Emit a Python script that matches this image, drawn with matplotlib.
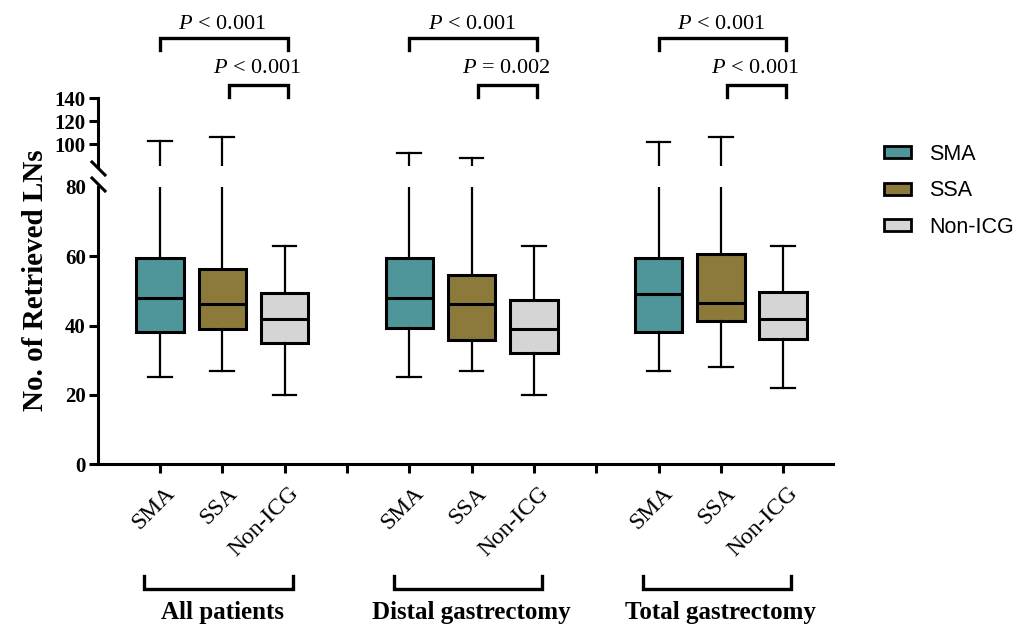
import numpy as np
import matplotlib.pyplot as plt
from matplotlib.patches import Patch
from matplotlib.lines import Line2D
import matplotlib.transforms as mtransforms

plt.rcParams['font.family'] = ['Liberation Serif', 'DejaVu Serif']
plt.rcParams['mathtext.fontset'] = 'custom'
plt.rcParams['mathtext.it'] = 'Liberation Serif:italic'
plt.rcParams['mathtext.rm'] = 'Liberation Serif'

groups = ['All patients', 'Distal gastrectomy', 'Total gastrectomy']
arms = ['SMA', 'SSA', 'Non-ICG']
colors = ['#4E9699', '#8C7A3B', '#D5D5D5']

# box stats per group (rows) and arm (cols)
lows = [[25, 27, 20], [25, 27, 20], [27, 28, 22]]
q1s = [[38.2, 39.0, 35.0], [39.2, 35.8, 32.2], [38.2, 41.3, 36.1]]
meds = [[48.0, 46.2, 42.0], [48.0, 46.1, 39.0], [49.0, 46.4, 41.8]]
q3s = [[59.5, 56.4, 49.4], [59.6, 54.6, 47.4], [59.6, 60.6, 49.8]]
highs = [[102.5, 106.0, 63.0], [92.0, 88.0, 63.0], [102.0, 106.0, 63.0]]

# P values: SMA vs Non-ICG, SSA vs Non-ICG
p_outer = ['< 0.001', '< 0.001', '< 0.001']
p_inner = ['< 0.001', '= 0.002', '< 0.001']

positions = [[1, 2, 3], [5, 6, 7], [9, 10, 11]]

W, H = 1017, 632
fig = plt.figure(figsize=(W / 100, H / 100), dpi=100)
left = 97.7 / W
width = (833 - 97.7) / W
ax = fig.add_axes([left, 1 - 464 / H, width, 277 / H])
ax_top = fig.add_axes([left, 1 - 166 / H, width, 67.9 / H])

for a in (ax, ax_top):
    for gi in range(3):
        stats = []
        for ai in range(3):
            stats.append(dict(whislo=lows[gi][ai], q1=q1s[gi][ai], med=meds[gi][ai],
                              q3=q3s[gi][ai], whishi=highs[gi][ai], fliers=[]))
        b = a.bxp(stats, positions=positions[gi], widths=0.76, capwidths=0.38,
                  patch_artist=True, showfliers=False, manage_ticks=False,
                  boxprops=dict(linewidth=2.2, edgecolor='black'),
                  whiskerprops=dict(linewidth=1.6, color='black'),
                  capprops=dict(linewidth=1.6, color='black'),
                  medianprops=dict(linewidth=2.2, color='black'))
        for patch, c in zip(b['boxes'], colors):
            patch.set_facecolor(c)
    a.set_xlim(0, 11.8)

ax.set_ylim(0, 80)
ax_top.set_ylim(81, 140)

for s in ['top', 'right']:
    ax.spines[s].set_visible(False)
for s in ['top', 'right', 'bottom']:
    ax_top.spines[s].set_visible(False)
for a in (ax, ax_top):
    a.spines['left'].set_linewidth(2.2)
ax.spines['bottom'].set_linewidth(2.2)

ax.set_yticks([0, 20, 40, 60, 80])
ax.yaxis.get_major_ticks()[-1].tick1line.set_visible(False)
ax_top.set_yticks([100, 120, 140])
for a in (ax, ax_top):
    a.tick_params(axis='y', length=6.5, width=2.2, labelsize=15, pad=2)
    for t in a.get_yticklabels():
        t.set_fontweight('bold')
ax_top.set_xticks([])

xt = list(range(1, 12))
xl = []
for k in xt:
    lab = ''
    for gi in range(3):
        if k in positions[gi]:
            lab = arms[positions[gi].index(k)]
    xl.append(lab)
ax.set_xticks(xt)
ax.set_xticklabels(xl)
ax.tick_params(axis='x', length=6.5, width=2.2, labelsize=17, pad=7)
offset = mtransforms.ScaledTranslation(4 / 100, 0, fig.dpi_scale_trans)
for t in ax.get_xticklabels():
    t.set_rotation(45)
    t.set_ha('right')
    t.set_va('top')
    t.set_rotation_mode('anchor')
    t.set_transform(t.get_transform() + offset)

# axis break marks
def brk(x0, y0, x1, y1):
    fig.add_artist(Line2D([x0 / W, x1 / W], [1 - y0 / H, 1 - y1 / H],
                          color='black', lw=2.2, transform=fig.transFigure))

brk(92, 162, 105, 175)
brk(92, 178, 105, 191)

# group brackets and labels below the axis
for gi in range(3):
    x0 = positions[gi][0] - 0.25
    x1 = positions[gi][-1] + 0.13
    ax.plot([x0, x0, x1, x1], [-32.3, -36.1, -36.1, -32.3], color='black', lw=2.4,
            clip_on=False, solid_joinstyle='miter')
    ax.text((positions[gi][0] + positions[gi][-1]) / 2, -44.8, groups[gi],
            ha='center', va='baseline', fontsize=18, fontweight='bold')

# significance brackets
for gi in range(3):
    p0, p1, p2 = positions[gi]
    ax_top.plot([p0, p0, p2 + 0.05, p2 + 0.05], [181.7, 192.2, 192.2, 181.7],
                color='black', lw=2.4, clip_on=False, solid_joinstyle='miter')
    ax_top.text((p0 + p2) / 2, 200, r'$\mathit{P}$ ' + p_outer[gi], ha='center',
                va='baseline', fontsize=16)
    ax_top.plot([p1 + 0.1, p1 + 0.1, p2 + 0.05, p2 + 0.05], [140.9, 151.3, 151.3, 140.9],
                color='black', lw=2.4, clip_on=False, solid_joinstyle='miter')
    ax_top.text((p1 + 0.1 + p2) / 2, 161.7, r'$\mathit{P}$ ' + p_inner[gi], ha='center',
                va='baseline', fontsize=16)

fig.text(36 / W, 1 - 280 / H, 'No. of Retrieved LNs', rotation=90, ha='center',
         va='center', fontsize=21, fontweight='bold')

handles = [Patch(facecolor=c, edgecolor='black', linewidth=2) for c in colors]
fig.legend(handles, arms, loc='upper left', bbox_to_anchor=(884 / W, 1 - 144 / H),
           frameon=False, borderpad=0, borderaxespad=0, handlelength=1.25,
           handleheight=0.5, handletextpad=0.85, labelspacing=0.72,
           prop={'family': 'Liberation Sans', 'size': 15.5})

fig.savefig('out.png', dpi=100)
